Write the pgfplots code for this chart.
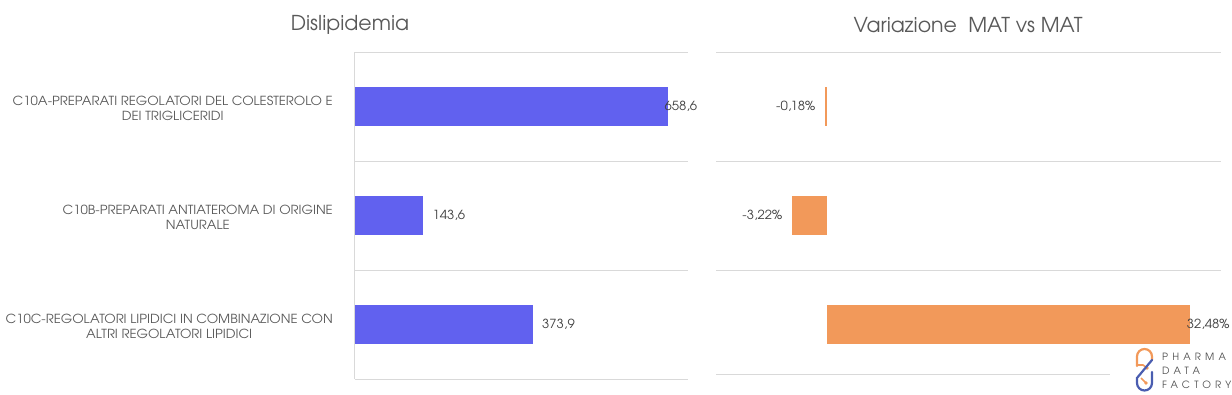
\documentclass[border=0pt]{standalone}
\usepackage{pgfplots}
\pgfplotsset{compat=1.18}
\usepackage{fontspec}
\setmainfont{TeX Gyre Adventor}
\definecolor{barblue}{HTML}{6161EF}
\definecolor{barorange}{HTML}{F2995A}
\definecolor{gridc}{HTML}{D9D9D9}
\definecolor{txt}{HTML}{595959}
\definecolor{lbl}{HTML}{404040}
\definecolor{logoblue}{HTML}{4A5DB0}
\definecolor{logotxt}{HTML}{4D4D4D}
\tikzset{lab/.style={font=\fontsize{12.5}{14}\selectfont\addfontfeatures{FakeStretch=1.05}, text=lbl, inner sep=0pt}}
\begin{document}
\begin{tikzpicture}[x=1pt,y=1pt]
\useasboundingbox (0pt,0pt) rectangle (1232pt,394pt);
\pgfplotsset{
 common/.style={
  xbar, scale only axis, anchor=south west, height=327pt,
  y dir=reverse, ymin=-0.5, ymax=2.5,
  ytick={0,1,2}, minor ytick={-0.5,0.5,1.5,2.5},
  yminorgrids=true, minor grid style={gridc, line width=1pt},
  major tick length=0pt, minor tick length=0pt,
  axis line style={draw=none},
  xtick=\empty,
  bar width=39pt,
  clip=false,
  /pgf/number format/assume math mode=true,
 },
}
% ---------- left chart ----------
\begin{axis}[common,
  at={(355pt,15pt)}, width=333pt, xmin=0, xmax=700,
  extra x ticks={0}, extra x tick labels={},
  extra x tick style={xmajorgrids=true, major grid style={gridc, line width=1pt}},
  yticklabels={C10A-PREPARATI REGOLATORI DEL COLESTEROLO E\\DEI TRIGLICERIDI,
               C10B-PREPARATI ANTIATEROMA DI ORIGINE\\NATURALE,
               C10C-REGOLATORI LIPIDICI IN COMBINAZIONE CON\\ALTRI REGOLATORI LIPIDICI},
  yticklabel style={align=center, font=\fontsize{12.5}{15}\selectfont\addfontfeatures{FakeStretch=1.05}, text=txt, inner sep=0pt, xshift=-22pt, yshift=-2pt},
  nodes near coords={\pgfmathprintnumber[fixed, fixed zerofill, precision=1, use comma]{\pgfplotspointmeta}},
]
\addplot[fill=barblue, draw=none, bar shift=0pt, nodes near coords style={lab, anchor=west, xshift=-4pt}] coordinates {(658.6,0)};
\addplot[fill=barblue, draw=none, bar shift=0pt, nodes near coords style={lab, anchor=west, xshift=9pt}] coordinates {(143.6,1)};
\addplot[fill=barblue, draw=none, bar shift=0pt, nodes near coords style={lab, anchor=west, xshift=9pt}] coordinates {(373.9,2)};
\end{axis}
% ---------- right chart ----------
\begin{axis}[common,
  at={(716pt,15pt)}, width=505pt, xmin=-10, xmax=35.3,
  minor ytick={-0.5,0.5,1.5},
  yticklabels={,,},
  nodes near coords={\pgfmathprintnumber[fixed, fixed zerofill, precision=2, use comma]{\pgfplotspointmeta}\%},
]
\addplot[fill=barorange, draw=none, bar shift=0pt, nodes near coords style={lab, anchor=east, xshift=-10pt}] coordinates {(-0.18,0)};
\addplot[fill=barorange, draw=none, bar shift=0pt, nodes near coords style={lab, anchor=east, xshift=-9pt}] coordinates {(-3.22,1)};
\addplot[fill=barorange, draw=none, bar shift=0pt, nodes near coords style={lab, anchor=west, xshift=-3pt}] coordinates {(32.48,2)};
\draw[gridc, line width=1pt] (axis cs:-10,2.463) -- (axis cs:25.3,2.463);
\end{axis}
% ---------- titles ----------
\node[text=txt, font=\fontsize{20.5}{24}\selectfont] at (350pt,369pt) {Dislipidemia};
\node[text=txt, font=\fontsize{20.5}{24}\selectfont] at (968pt,369pt) {Variazione\ \ MAT vs MAT};
% ---------- logo ----------
\begin{scope}[font=\fontsize{10}{12}\selectfont\addfontfeatures{LetterSpace=42}, text=logotxt]
\node[anchor=west, inner sep=0pt] at (1162pt,37pt) {PHARMA};
\node[anchor=west, inner sep=0pt] at (1162pt,23pt) {DATA};
\node[anchor=west, inner sep=0pt] at (1162pt,9pt) {FACTORY};
\end{scope}
% capsule icon (image y -> 394 - y)
\draw[barorange, line width=2.2pt, line cap=round] (1137pt,28pt) -- (1137pt,37.5pt) arc (180:0:7.5pt) -- (1152pt,34pt);
\draw[barorange, line width=1.6pt] (1138pt,29pt) -- (1143pt,29pt) -- (1147pt,26pt);
\fill[barorange] (1147pt,26pt) circle (1.8pt);
\draw[logoblue, line width=2.2pt, line cap=round] (1152pt,34pt) -- (1137pt,16pt) -- (1137pt,11pt) arc (180:360:7.5pt) -- (1152pt,22pt);
\draw[barorange, line width=1.6pt] (1141pt,16pt) -- (1146pt,11pt);
\fill[barorange] (1146pt,11pt) circle (1.8pt);
\end{tikzpicture}
\end{document}
